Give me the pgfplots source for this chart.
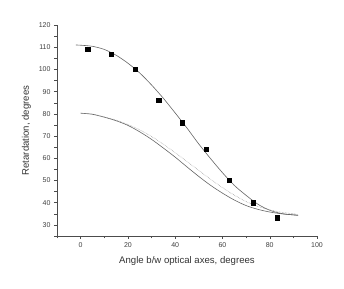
\documentclass[border=0pt]{standalone}
\usepackage{pgfplots}
\pgfplotsset{compat=1.18}
\usepackage{fontspec}
\setmainfont{Liberation Sans}
\begin{document}
\begin{tikzpicture}
\begin{axis}[
  scale only axis, width=260pt, height=211pt,
  xmin=-10, xmax=100, ymin=25, ymax=120,
  axis x line=bottom, axis y line=left,
  axis line style={-, black!70, line width=0.5pt},
  xtick={0,20,...,100}, minor xtick={-10,10,30,50,70,90},
  ytick={30,40,...,120}, minor ytick={25,35,...,115},
  tick align=outside, major tick length=3pt, minor tick length=2.5pt,
  tick style={black!70, line width=0.4pt},
  every tick label/.append style={font=\fontsize{7}{8}\selectfont, text=black!75},
  /pgf/number format/assume math mode=true,
  xlabel={Angle b/w optical axes, degrees},
  ylabel={Retardation, degrees},
  label style={font=\fontsize{9.6}{11}\selectfont, text=black!80},
  xlabel style={yshift=-2pt},
  ylabel style={yshift=1pt},
  clip=false,
]
\addplot[smooth, black!60, line width=0.6pt] coordinates {
 (-2,111.0) (0,110.9) (5,110.4) (10,109.0) (15,106.4) (20,102.8) (25,98.4) (30,93.0) (35,87.0) (40,80.4) (45,73.6) (50,66.4) (55,59.8) (60,53.5) (65,47.8) (70,43.3) (75,39.3) (80,36.6) (85,35.1) (90,34.5) (92,34.3)
};
\addplot[smooth, black!60, line width=0.6pt] coordinates {
 (0,80.3) (5,79.8) (10,78.5) (15,76.9) (20,74.8) (25,71.9) (30,68.5) (35,64.6) (40,60.5) (45,56.1) (50,51.8) (55,47.8) (60,44.3) (65,41.2) (70,38.7) (75,37.0) (80,35.8) (85,35.0) (90,34.5) (92,34.4)
};
\addplot[smooth, black!45, densely dotted, line width=0.5pt] coordinates {
 (0,80.3) (5,79.9) (10,78.6) (15,77.2) (20,75.2) (25,72.8) (30,69.8) (35,66.3) (40,62.5) (45,58.5) (50,54.5) (55,50.5) (60,46.8) (65,43.4) (70,40.5) (75,38.3) (80,36.8) (85,35.7) (90,35.0) (92,34.7)
};
\addplot[only marks, mark=square*, mark size=2.1pt, black] coordinates {
 (3,109) (13,107) (23,100) (33,86) (43,76) (53,64) (63,50) (73,40) (83,33.2)
};
\coordinate (ll) at (rel axis cs:0,0);
\coordinate (ur) at (rel axis cs:1,1);
\end{axis}
\path[use as bounding box] ([xshift=-57pt,yshift=-53pt]ll) rectangle ([xshift=27pt,yshift=25pt]ur);
\end{tikzpicture}
\end{document}
